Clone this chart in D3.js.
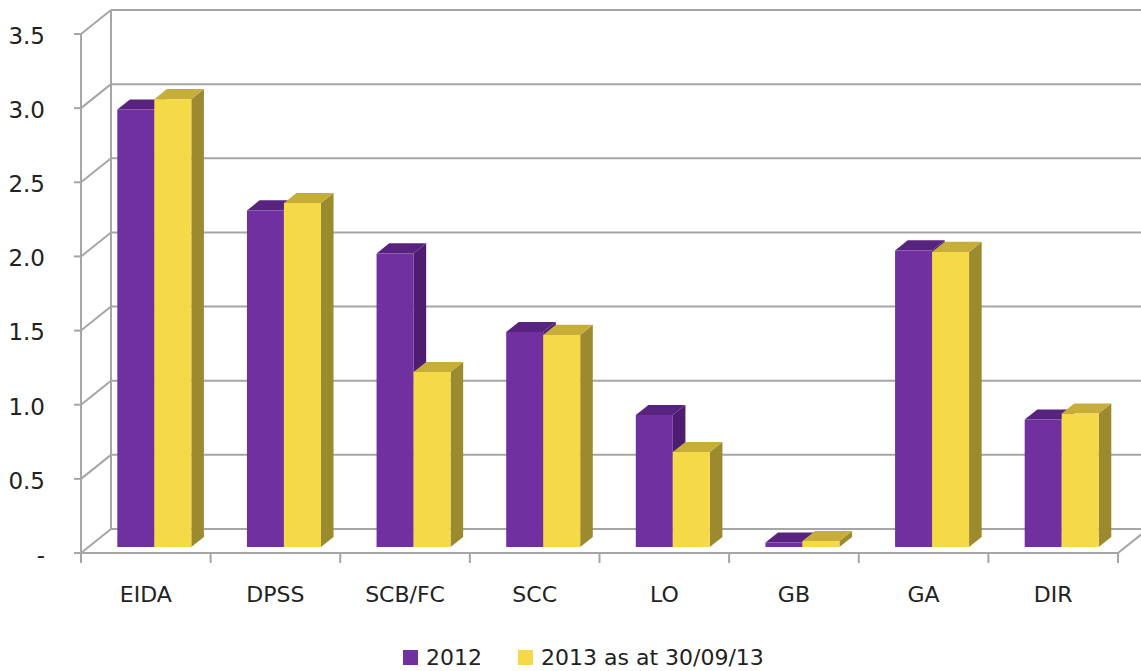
<!DOCTYPE html>
<html>
<head>
<meta charset="utf-8">
<script src="https://cdn.jsdelivr.net/npm/d3@7"></script>
<style>
  body { margin: 0; background: #fff; }
  text { font-family: "DejaVu Sans", "Noto Sans", sans-serif; fill: #222; }
</style>
</head>
<body>
<svg id="chart" width="1141" height="671"></svg>
<script>
// data
var categories = ["EIDA", "DPSS", "SCB/FC", "SCC", "LO", "GB", "GA", "DIR"];
var series2012 = [2.95, 2.27, 1.98, 1.45, 0.89, 0.03, 2.00, 0.86];
var series2013 = [3.02, 2.32, 1.18, 1.43, 0.64, 0.04, 1.99, 0.90];
var seriesNames = ["2012", "2013 as at 30/09/13"];
var yTicks = [0, 0.5, 1.0, 1.5, 2.0, 2.5, 3.0, 3.5];

var svg = d3.select("#chart");

// front plane scales
var x = d3.scaleBand().domain(categories).range([81, 1118]).paddingInner(0).paddingOuter(0);
var y = d3.scaleLinear().domain([0, 3.5]).range([553, 34]);

// depth of the 3d box
var depthX = 30, depthY = -24;
function proj(px, py, z) { return [px + depthX * z, py + depthY * z]; }

var grid = svg.append("g").attr("fill", "none").attr("stroke", "#a6a6a6").attr("stroke-width", 2);

// back wall gridlines + side wall diagonals
yTicks.forEach(function (t) {
    var yf = y(t);
    var b = proj(81, yf, 1);
    grid.append("line").attr("x1", b[0]).attr("y1", b[1]).attr("x2", 1160).attr("y2", b[1]);
    grid.append("line").attr("x1", 81).attr("y1", yf).attr("x2", b[0]).attr("y2", b[1]);
});
// back wall left edge
var wallTop = proj(81, y(3.5), 1), wallBot = proj(81, y(0), 1);
grid.append("line").attr("x1", wallTop[0]).attr("y1", wallTop[1]).attr("x2", wallBot[0]).attr("y2", wallBot[1]);

// floor front edge and right diagonal
var fr = proj(1118, y(0), 1);
grid.append("line").attr("x1", 81).attr("y1", y(0)).attr("x2", 1118).attr("y2", y(0));
grid.append("line").attr("x1", 1118).attr("y1", y(0)).attr("x2", fr[0]).attr("y2", fr[1]);

// front value axis
grid.append("line").attr("x1", 81).attr("y1", y(3.5)).attr("x2", 81).attr("y2", y(0));
yTicks.forEach(function (t) {
    grid.append("line").attr("x1", 74).attr("y1", y(t)).attr("x2", 81).attr("y2", y(t));
});
// category ticks
categories.concat(["_end"]).forEach(function (c, i) {
    var xx = 81 + i * x.bandwidth();
    grid.append("line").attr("x1", xx).attr("y1", y(0)).attr("x2", xx).attr("y2", y(0) + 10);
});

// value labels
svg.append("g").selectAll("text").data(yTicks).join("text")
    .attr("x", 45).attr("y", function (d) { return y(d); })
    .attr("dy", "0.43em")
    .attr("text-anchor", "end")
    .style("font-size", "23px")
    .text(function (d) { return d === 0 ? "-" : d.toFixed(1); });

// category labels
svg.append("g").selectAll("text").data(categories).join("text")
    .attr("x", function (d) { return x(d) + x.bandwidth() / 2; })
    .attr("y", 602)
    .attr("text-anchor", "middle")
    .style("font-size", "22px")
    .text(function (d) { return d; });

// bars
var colors = [
    { front: "#7030a0", top: "#57237f", side: "#4c1d70" },
    { front: "#f6d946", top: "#c7ad3a", side: "#9c8a2f" }
];
var barW = 37, z0 = 0.25, z1 = 0.67;
var bars = svg.append("g");
categories.forEach(function (c, i) {
    [series2012[i], series2013[i]].forEach(function (v, s) {
        var col = colors[s];
        var x0 = x(c) + (x.bandwidth() - 2 * barW) / 2 + s * barW + 1;
        var x1 = x0 + barW;
        var yb = y(0), yt = y(v);
        var fTL = proj(x0, yt, z0), fTR = proj(x1, yt, z0), fBR = proj(x1, yb, z0), fBL = proj(x0, yb, z0);
        var bTL = proj(x0, yt, z1), bTR = proj(x1, yt, z1), bBR = proj(x1, yb, z1);
        var g = bars.append("g");
        g.append("path").attr("fill", col.side)
            .attr("d", "M" + [fTR, bTR, bBR, fBR].join("L") + "Z");
        g.append("path").attr("fill", col.top)
            .attr("d", "M" + [fTL, bTL, bTR, fTR].join("L") + "Z");
        g.append("path").attr("fill", col.front)
            .attr("d", "M" + [fTL, fTR, fBR, fBL].join("L") + "Z");
    });
});

// legend
var legend = svg.append("g");
var legendX = [403, 518];
seriesNames.forEach(function (n, i) {
    legend.append("rect").attr("x", legendX[i]).attr("y", 650).attr("width", 15).attr("height", 15)
        .attr("fill", colors[i].front);
    legend.append("text").attr("x", legendX[i] + 23).attr("y", 665)
        .style("font-size", "22px").text(n);
});
</script>
</body>
</html>
